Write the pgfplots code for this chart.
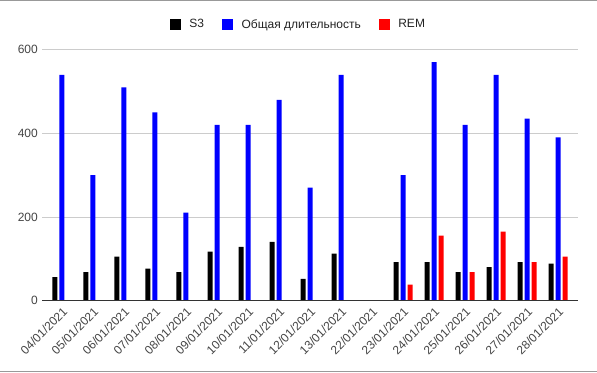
\documentclass[border=0pt]{standalone}
\usepackage{fontspec}
\setmainfont{Liberation Sans}
\usepackage{pgfplots}
\pgfplotsset{compat=1.18}
\definecolor{tickgray}{HTML}{444444}
\definecolor{gridgray}{HTML}{CCCCCC}
\definecolor{legtext}{HTML}{222222}
\definecolor{framegray}{HTML}{999999}
\definecolor{basegray}{HTML}{333333}
\begin{document}
\fontsize{12bp}{14bp}\selectfont
\begin{tikzpicture}
\path[use as bounding box] (0bp,0bp) rectangle (597bp,373bp);
\draw[framegray, line width=1.2bp] (0bp,372.4bp) -- (597bp,372.4bp);
\draw[framegray, line width=1.2bp] (0bp,1.2bp) -- (597bp,1.2bp);
\begin{axis}[
  at={(42bp,72.5bp)}, anchor=south west,
  scale only axis, width=536bp, height=250.8bp,
  xmin=-0.645, xmax=16.645, ymin=0, ymax=600,
  ybar=2bp, bar width=5bp,
  axis line style={draw=none}, tick style={draw=none},
  ytick={0,200,400,600},
  ymajorgrids, grid style={gridgray, line width=0.8bp},
  xtick={0,...,16},
  xticklabels={04/01/2021,05/01/2021,06/01/2021,07/01/2021,08/01/2021,09/01/2021,10/01/2021,11/01/2021,12/01/2021,13/01/2021,22/01/2021,23/01/2021,24/01/2021,25/01/2021,26/01/2021,27/01/2021,28/01/2021},
  xticklabel style={rotate=45, anchor=north east, font=\fontsize{12bp}{14bp}\selectfont, text=tickgray, inner sep=1bp},
  yticklabel style={font=\fontsize{12bp}{14bp}\selectfont, text=tickgray},
  /pgf/number format/assume math mode=true,
  legend columns=3,
  legend style={at={(0.4785,1.0997)}, anchor=center, draw=none, fill=none,
    font=\fontsize{12bp}{14bp}\selectfont, text=legtext,
    /tikz/every odd column/.append style={column sep=6.5bp},
    /tikz/every even column/.append style={column sep=16bp},
    cells={anchor=west}},
  legend image code/.code={\fill[#1] (0bp,-5.5bp) rectangle (11bp,5.5bp);},
]
\addplot[fill=black, draw=none] coordinates {(0,56) (1,68) (2,105) (3,76) (4,68) (5,117) (6,128) (7,140) (8,52) (9,112) (11,92) (12,92) (13,68) (14,80) (15,92) (16,88)};
\addplot[fill={rgb,255:red,0;green,0;blue,255}, draw=none] coordinates {(0,540) (1,300) (2,510) (3,450) (4,210) (5,420) (6,420) (7,480) (8,270) (9,540) (11,300) (12,570) (13,420) (14,540) (15,435) (16,390)};
\addplot[fill={rgb,255:red,255;green,0;blue,0}, draw=none] coordinates {(11,38) (12,155) (13,68) (14,165) (15,92) (16,105)};
\legend{S3, Общая длительность, REM}
\draw[basegray, line width=1.2bp] (axis cs:-0.645,0) -- (axis cs:16.645,0);
\end{axis}
\end{tikzpicture}
\end{document}
